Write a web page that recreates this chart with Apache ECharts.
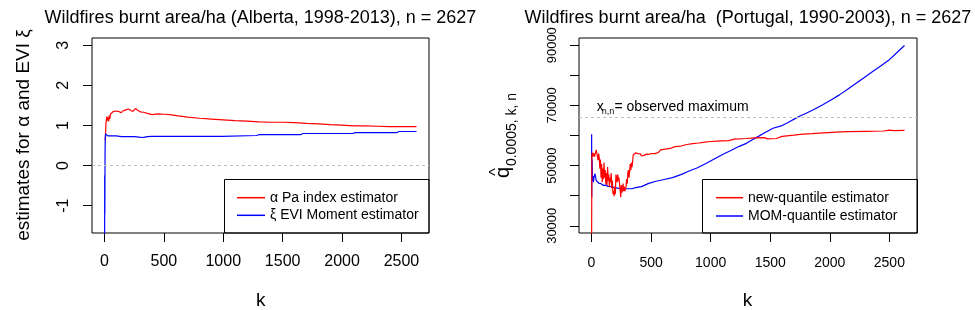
<!DOCTYPE html>
<html><head><meta charset="utf-8">
<script src="https://cdn.jsdelivr.net/npm/echarts@6/dist/echarts.min.js"></script>
<style>html,body{margin:0;padding:0;background:#fff}#c{width:975px;height:310px}</style>
</head><body><div id="c"></div>
<script>
const FONT = '"Liberation Sans", Arial, sans-serif';

// ---- Left panel (Alberta) ----
const alphaK = [5, 8, 10, 12, 15, 20, 25, 30, 35, 40, 45, 50, 60, 70, 80, 90, 100, 120, 140, 160, 180, 200, 220, 240, 260, 280, 300, 330, 360, 400, 450, 500, 550, 620, 700, 800, 900, 1000, 1100, 1200, 1300, 1400, 1500, 1600, 1700, 1800, 1900, 2000, 2100, 2200, 2300, 2400, 2500, 2627];
const alphaV = [0.70, 0.62, 0.63, 1.05, 1.10, 1.22, 1.12, 1.20, 1.10, 1.25, 1.16, 1.28, 1.30, 1.34, 1.31, 1.36, 1.33, 1.35, 1.32, 1.37, 1.39, 1.41, 1.38, 1.35, 1.42, 1.38, 1.34, 1.33, 1.30, 1.27, 1.29, 1.28, 1.27, 1.24, 1.21, 1.18, 1.16, 1.14, 1.12, 1.11, 1.09, 1.08, 1.08, 1.07, 1.05, 1.04, 1.02, 1.01, 0.99, 0.99, 0.98, 0.97, 0.97, 0.97];
const xiK = [1, 2, 3, 4, 5, 6, 8, 10, 15, 20, 30, 40, 60, 80, 100, 125, 150, 200, 250, 290, 320, 340, 360, 400, 500, 700, 990, 1000, 1280, 1300, 1650, 1670, 2090, 2110, 2460, 2480, 2627];
const xiV = [-2.5, -0.25, -1.2, -0.5, 0.3, 0.55, 0.79, 0.80, 0.75, 0.77, 0.74, 0.75, 0.74, 0.74, 0.74, 0.73, 0.72, 0.72, 0.72, 0.71, 0.70, 0.71, 0.72, 0.73, 0.73, 0.73, 0.73, 0.75, 0.75, 0.77, 0.77, 0.80, 0.80, 0.82, 0.82, 0.85, 0.85];
const leftRefLine = 0;

// ---- Right panel (Portugal) ----
const newK = [1, 2, 3, 4, 8, 12, 16, 20, 25, 30, 35, 40, 45, 50, 55, 60, 65, 70, 75, 80, 85, 90, 95, 100, 105, 110, 115, 120, 125, 130, 135, 140, 145, 150, 155, 160, 165, 170, 175, 180, 185, 190, 195, 200, 205, 210, 215, 220, 225, 230, 240, 245, 250, 255, 260, 265, 270, 275, 280, 290, 295, 300, 305, 310, 315, 320, 325, 330, 335, 340, 345, 350, 360, 370, 380, 390, 400, 410, 420, 430, 440, 460, 480, 500, 530, 560, 580, 620, 660, 700, 750, 800, 850, 900, 950, 1000, 1050, 1100, 1150, 1200, 1300, 1370, 1450, 1480, 1550, 1600, 1700, 1750, 1850, 1950, 2050, 2150, 2300, 2450, 2500, 2540, 2627];
const newV = [25000, 40000, 52000, 54000, 53000, 54300, 53200, 54000, 52900, 53800, 54500, 55200, 54000, 53000, 51800, 54000, 52500, 49000, 52000, 46000, 50500, 44500, 49000, 45500, 51000, 46000, 48500, 44000, 47500, 43500, 49500, 45000, 47000, 43000, 46000, 44500, 47500, 42500, 45000, 40500, 41500, 39800, 43000, 40500, 47000, 46500, 44500, 47000, 45000, 46000, 42000, 39500, 43500, 41000, 42000, 44000, 41500, 43000, 41500, 43000, 45500, 44000, 47500, 48500, 46000, 48000, 50500, 48500, 51000, 49500, 51200, 53500, 54000, 54200, 53800, 54000, 53700, 53900, 53200, 52800, 53400, 53800, 53700, 54000, 54000, 54300, 55200, 55500, 55700, 56300, 56500, 57000, 57300, 57500, 57800, 58000, 58100, 58200, 58300, 58800, 59000, 59200, 59300, 58900, 59000, 59700, 60100, 60400, 60600, 60900, 61100, 61300, 61400, 61500, 61800, 61600, 61700];
const momK = [1, 2, 3, 4, 5, 8, 12, 16, 20, 25, 30, 35, 40, 50, 60, 70, 80, 100, 120, 140, 166, 190, 220, 250, 300, 340, 370, 420, 475, 540, 600, 680, 750, 820, 890, 960, 1030, 1100, 1170, 1240, 1300, 1350, 1383, 1450, 1523, 1600, 1650, 1690, 1750, 1802, 1870, 1941, 2010, 2081, 2150, 2221, 2290, 2360, 2430, 2500, 2560, 2627];
const momV = [60400, 39500, 50000, 46000, 52000, 45000, 46500, 44500, 46000, 45500, 47300, 46000, 45000, 44800, 44200, 43700, 44000, 43400, 43500, 43100, 43000, 42700, 42500, 42300, 42300, 42300, 42700, 43000, 44000, 44800, 45300, 46000, 47000, 48200, 49300, 50700, 52200, 53700, 55000, 56400, 57400, 58600, 59300, 60800, 62400, 63300, 64300, 65200, 66500, 67400, 68700, 70200, 71800, 73500, 75400, 77400, 79300, 81300, 83200, 85200, 87400, 89900];
const observedMax = 66000;

// ---- axes ----
const xTicks = [0, 500, 1000, 1500, 2000, 2500];
const leftYTicks = [-1, 0, 1, 2, 3];
const rightYTicks = [30000, 40000, 50000, 60000, 70000, 80000, 90000];
const rightYLabels = [30000, 50000, 70000, 90000];

const titles = ['Wildfires burnt area/ha (Alberta, 1998-2013), n = 2627', 'Wildfires burnt area/ha  (Portugal, 1990-2003), n = 2627'];
const names = ['α Pa index estimator', 'ξ EVI Moment estimator', 'new-quantile estimator', 'MOM-quantile estimator'];

const zip = (k, v) => k.map((x, i) => [x, v[i]]);
const plain = v => String(v);

function xAxis(gi, fs, margin) {
  return {
    type: 'value', gridIndex: gi, min: -105, max: 2732, position: 'bottom',
    axisLine: {show: false, onZero: false},
    axisTick: {show: true, inside: false, length: 9, customValues: xTicks, lineStyle: {color: '#000', width: 1}},
    axisLabel: {customValues: xTicks, formatter: plain, fontSize: fs, color: '#000', fontFamily: FONT, margin: margin},
    splitLine: {show: false}
  };
}
function yAxis(gi, min, max, ticks, labels, fs, margin) {
  return {
    type: 'value', gridIndex: gi, min: min, max: max, position: 'left',
    axisLine: {show: false, onZero: false},
    axisTick: {show: true, inside: false, length: 9, customValues: ticks, lineStyle: {color: '#000', width: 1}},
    axisLabel: {customValues: labels, formatter: plain, rotate: 90, fontSize: fs, color: '#000', fontFamily: FONT, margin: margin},
    splitLine: {show: false}
  };
}
function txt(x, y, text, size, opts) {
  const o = Object.assign({align: 'center', verticalAlign: 'middle', rotation: 0}, opts || {});
  return {
    type: 'text', x: x, y: y, rotation: o.rotation, z: 100,
    style: {text: text, fontSize: size, fontFamily: FONT, fill: '#000',
      align: o.align, textAlign: o.align, verticalAlign: o.verticalAlign, textVerticalAlign: o.verticalAlign}
  };
}
function refLine(v) {
  return {silent: true, symbol: 'none', label: {show: false},
    lineStyle: {color: '#bebebe', type: [3, 3], width: 1}, data: [{yAxis: v}]};
}

const chart = echarts.init(document.getElementById('c'), null, {renderer: 'canvas'});
chart.setOption({
  animation: false,
  backgroundColor: '#fff',
  grid: [
    {left: 92, top: 38, width: 337, height: 195, show: true, borderColor: '#000', borderWidth: 1, backgroundColor: 'transparent', containLabel: false, outerBoundsMode: 'none'},
    {left: 579, top: 38, width: 338, height: 195, show: true, borderColor: '#000', borderWidth: 1, backgroundColor: 'transparent', containLabel: false, outerBoundsMode: 'none'}
  ],
  xAxis: [xAxis(0, 16, 21), xAxis(1, 14, 23)],
  yAxis: [
    yAxis(0, -1.68, 3.18, leftYTicks, leftYTicks, 16, 20),
    yAxis(1, 27600, 92400, rightYTicks, rightYLabels, 13, 20)
  ],
  legend: [
    {data: [names[0], names[1]], orient: 'vertical', left: 237, top: 190.7, icon: 'rect', itemWidth: 28, itemHeight: 1.5,
     itemGap: 3.6, itemTextGap: 11.5, padding: 0, selectedMode: false,
     textStyle: {fontSize: 14, lineHeight: 14, color: '#000', fontFamily: FONT}},
    {data: [names[2], names[3]], orient: 'vertical', left: 716, top: 190.7, icon: 'rect', itemWidth: 27, itemHeight: 1.5,
     itemGap: 4.3, itemTextGap: 13.4, padding: 0, selectedMode: false,
     textStyle: {fontSize: 14, lineHeight: 14, color: '#000', fontFamily: FONT}}
  ],
  series: [
    {name: names[0], type: 'line', xAxisIndex: 0, yAxisIndex: 0, data: zip(alphaK, alphaV), showSymbol: false, symbol: 'none',
     lineStyle: {color: '#ff0000', width: 1.2}, itemStyle: {color: '#ff0000'}, markLine: refLine(leftRefLine)},
    {name: names[1], type: 'line', xAxisIndex: 0, yAxisIndex: 0, data: zip(xiK, xiV), showSymbol: false, symbol: 'none',
     lineStyle: {color: '#0000ff', width: 1.2}, itemStyle: {color: '#0000ff'}},
    {name: names[3], type: 'line', xAxisIndex: 1, yAxisIndex: 1, data: zip(momK, momV), showSymbol: false, symbol: 'none',
     lineStyle: {color: '#0000ff', width: 1.2}, itemStyle: {color: '#0000ff'}, markLine: refLine(observedMax)},
    {name: names[2], type: 'line', xAxisIndex: 1, yAxisIndex: 1, data: zip(newK, newV), showSymbol: false, symbol: 'none',
     lineStyle: {color: '#ff0000', width: 1.2}, itemStyle: {color: '#ff0000'}}
  ],
  graphic: [
    txt(260.5, 18.3, titles[0], 18),
    txt(748, 18.3, titles[1], 18),
    txt(260.7, 300.3, 'k', 19),
    txt(747.5, 300.3, 'k', 19),
    txt(23.5, 135, 'estimates for α and EVI ξ', 19, {rotation: Math.PI / 2}),
    txt(503.5, 172.5, 'q', 20, {rotation: Math.PI / 2}),
    txt(496.4, 172, '^', 16, {rotation: Math.PI / 2}),
    txt(512.5, 129.5, '0.0005, k, n', 14, {rotation: Math.PI / 2}),
    txt(596.7, 106.8, 'x', 14, {align: 'left'}),
    txt(601.8, 111.5, 'n,n', 9, {align: 'left'}),
    txt(614.5, 106.8, '= observed maximum', 14, {align: 'left'}),
    {type: 'rect', z: 90, shape: {x: 224.5, y: 179.5, width: 204.5, height: 53.5}, style: {fill: 'none', stroke: '#000', lineWidth: 1}},
    {type: 'rect', z: 90, shape: {x: 702.5, y: 179.5, width: 215, height: 53.5}, style: {fill: 'none', stroke: '#000', lineWidth: 1}}
  ]
});
</script>
</body></html>
